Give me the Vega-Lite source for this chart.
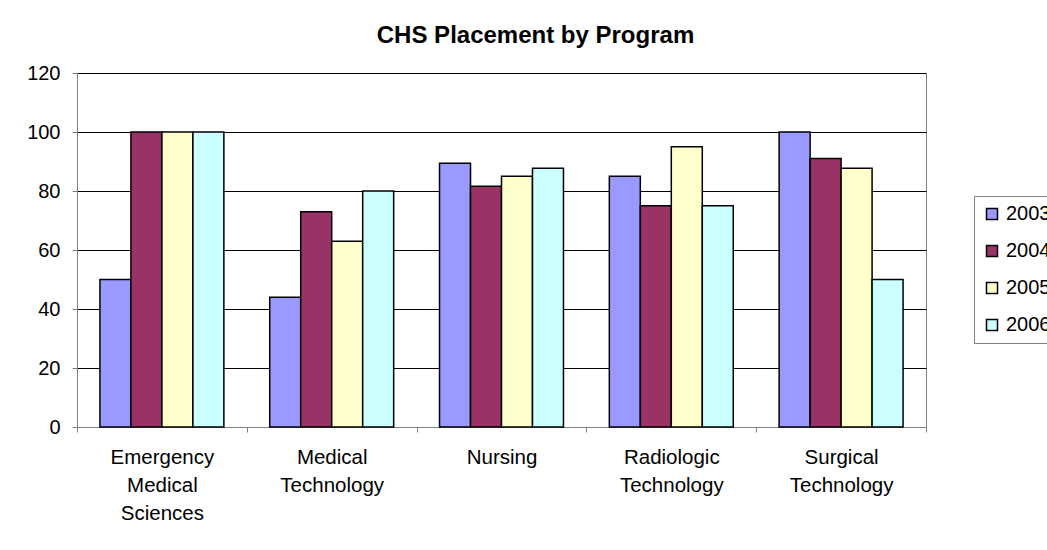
{
  "$schema": "https://vega.github.io/schema/vega-lite/v6.json",
  "width": 849,
  "height": 354,
  "autosize": "none",
  "padding": {"left": 77, "top": 73, "right": 121, "bottom": 123},
  "background": "white",
  "title": {
    "text": "CHS Placement by Program",
    "font": "Liberation Sans",
    "fontSize": 24,
    "fontWeight": "bold",
    "color": "black",
    "anchor": "middle",
    "frame": "group",
    "dx": 34,
    "offset": 15
  },
  "data": {
    "values": [
      {"program": "Emergency Medical Sciences", "year": "2003", "value": 50},
      {"program": "Emergency Medical Sciences", "year": "2004", "value": 100},
      {"program": "Emergency Medical Sciences", "year": "2005", "value": 100},
      {"program": "Emergency Medical Sciences", "year": "2006", "value": 100},
      {"program": "Medical Technology", "year": "2003", "value": 44},
      {"program": "Medical Technology", "year": "2004", "value": 73},
      {"program": "Medical Technology", "year": "2005", "value": 63},
      {"program": "Medical Technology", "year": "2006", "value": 80},
      {"program": "Nursing", "year": "2003", "value": 89.4},
      {"program": "Nursing", "year": "2004", "value": 81.6},
      {"program": "Nursing", "year": "2005", "value": 85},
      {"program": "Nursing", "year": "2006", "value": 87.7},
      {"program": "Radiologic Technology", "year": "2003", "value": 85},
      {"program": "Radiologic Technology", "year": "2004", "value": 75},
      {"program": "Radiologic Technology", "year": "2005", "value": 95},
      {"program": "Radiologic Technology", "year": "2006", "value": 75},
      {"program": "Surgical Technology", "year": "2003", "value": 100},
      {"program": "Surgical Technology", "year": "2004", "value": 91},
      {"program": "Surgical Technology", "year": "2005", "value": 87.7},
      {"program": "Surgical Technology", "year": "2006", "value": 50}
    ]
  },
  "mark": {"type": "bar", "stroke": "black", "strokeWidth": 1.5},
  "encoding": {
    "x": {
      "field": "program",
      "type": "nominal",
      "sort": ["Emergency Medical Sciences", "Medical Technology", "Nursing", "Radiologic Technology", "Surgical Technology"],
      "scale": {"paddingInner": 0, "paddingOuter": 0},
      "axis": {
        "title": null,
        "labelAngle": 0,
        "tickBand": "extent",
        "ticks": true,
        "tickSize": 5,
        "tickColor": "#808080",
        "domainColor": "#808080",
        "labelFont": "Liberation Sans",
        "labelFontSize": 20.5,
        "labelColor": "black",
        "labelPadding": 15,
        "labelExpr": "split(datum.label, ' ')",
        "labelLineHeight": 28,
        "grid": false
      }
    },
    "xOffset": {
      "field": "year",
      "type": "nominal",
      "scale": {"paddingInner": 0, "paddingOuter": 0.74}
    },
    "y": {
      "field": "value",
      "type": "quantitative",
      "scale": {"domain": [0, 120], "nice": false},
      "axis": {
        "title": null,
        "values": [0, 20, 40, 60, 80, 100, 120],
        "grid": true,
        "gridColor": "black",
        "gridWidth": 1,
        "domainColor": "#808080",
        "tickColor": "#808080",
        "tickSize": 5,
        "labelFont": "Liberation Sans",
        "labelFontSize": 20,
        "labelColor": "black",
        "labelPadding": 12
      }
    },
    "color": {
      "field": "year",
      "type": "nominal",
      "scale": {"domain": ["2003", "2004", "2005", "2006"], "range": ["#9999FF", "#993366", "#FFFFCC", "#CCFFFF"]},
      "legend": {
        "title": null,
        "orient": "none",
        "legendX": 897,
        "legendY": 123,
        "symbolType": "square",
        "symbolSize": 121,
        "symbolStrokeColor": "black",
        "symbolStrokeWidth": 1.5,
        "symbolOpacity": 1,
        "labelFont": "Liberation Sans",
        "labelFontSize": 20,
        "labelColor": "black",
        "labelOffset": 4,
        "strokeColor": "#808080",
        "fillColor": "white",
        "padding": 8,
        "rowPadding": 17
      }
    }
  },
  "config": {"view": {"stroke": "#808080"}}
}
